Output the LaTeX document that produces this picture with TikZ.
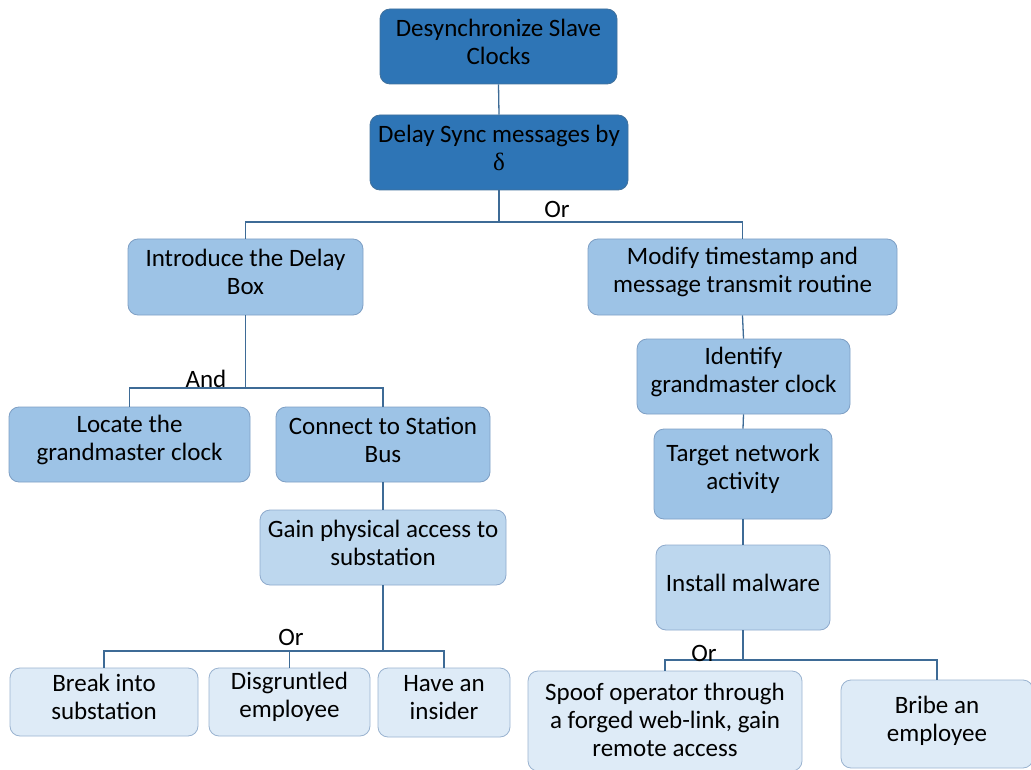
\documentclass[tikz,border=0pt]{standalone}
\usepackage{fontspec}
\setmainfont{Carlito}
\newfontfamily\greekserif{Liberation Serif}
\begin{document}
\begin{tikzpicture}[x=1pt,y=-1pt,
  box/.style={rectangle, rounded corners=10pt, inner sep=0pt, line width=0.8pt},
  txt/.style={inner sep=0pt, align=center, text=black,
    font=\fontsize{25}{28}\selectfont, yshift=5pt},
  lvA/.style={box, fill=c1fill, draw=c1line},
  lvB/.style={box, fill=c2fill, draw=c2line},
  lvC/.style={box, fill=c3fill, draw=c3line},
  lvD/.style={box, fill=c4fill, draw=c4line},
  link/.style={draw=linkc, line width=1.3pt},
  gate/.style={font=\fontsize{25}{28}\selectfont, inner sep=0pt}]
\definecolor{c1fill}{HTML}{2E75B6}
\definecolor{c1line}{HTML}{41719C}
\definecolor{c2fill}{HTML}{9DC3E6}
\definecolor{c2line}{HTML}{7E9FC4}
\definecolor{c3fill}{HTML}{BDD7EE}
\definecolor{c3line}{HTML}{8EAACC}
\definecolor{c4fill}{HTML}{DEEBF7}
\definecolor{c4line}{HTML}{9AB3D0}
\definecolor{linkc}{HTML}{3E6B96}
\useasboundingbox (0,0) rectangle (1031,770);

% top of the tree
\node[lvA, minimum width=237pt, minimum height=75pt,
  label={[txt]center:{Desynchronize Slave\\Clocks}}] (top) at (498.5,46.5) {};
\node[lvA, minimum width=258pt, minimum height=75pt,
  label={[txt]center:{Delay Sync messages by\\{\greekserif δ}}}] (sync) at (499,152.5) {};

% second level
\node[lvB, minimum width=235pt, minimum height=76pt,
  label={[txt]center:{Introduce the Delay\\Box}}] (intro) at (245.5,277) {};
\node[lvB, minimum width=309pt, minimum height=76pt,
  label={[txt]center:{Modify timestamp and\\message transmit routine}}] (modify) at (742.5,277) {};

% left branch
\node[lvB, minimum width=241pt, minimum height=75pt,
  label={[txt]center:{Locate the\\grandmaster clock}}] (locate) at (129.5,444.5) {};
\node[lvB, minimum width=214pt, minimum height=75pt,
  label={[txt]center:{Connect to Station\\Bus}}] (connect) at (383,444.5) {};
\node[lvC, minimum width=246pt, minimum height=75pt,
  label={[txt]center:{Gain physical access to\\substation}}] (gain) at (383,547.5) {};
\node[lvD, minimum width=188pt, minimum height=68pt,
  label={[txt]center:{Break into\\substation}}] (breakin) at (104,702) {};
\node[lvD, minimum width=161pt, minimum height=68pt,
  label={[txt]center:{Disgruntled\\employee}}] (disgr) at (289.5,702) {};
\node[lvD, minimum width=132pt, minimum height=69pt,
  label={[txt]center:{Have an\\insider}}] (insider) at (444,702.5) {};

% right branch
\node[lvB, minimum width=213pt, minimum height=75pt,
  label={[txt]center:{Identify\\grandmaster clock}}] (identify) at (743.5,376.5) {};
\node[lvB, minimum width=178pt, minimum height=90pt,
  label={[txt]center:{Target network\\activity}}] (target) at (743,474) {};
\node[lvC, minimum width=174pt, minimum height=85pt,
  label={[txt]center:{Install malware}}] (malware) at (743,587.5) {};
\node[lvD, minimum width=274pt, minimum height=100pt,
  label={[txt, yshift=-4pt]center:{Spoof operator through\\a forged web-link, gain\\remote access}}] (spoof) at (665,721) {};
\node[lvD, minimum width=192pt, minimum height=88pt,
  label={[txt, yshift=-2pt]center:{Bribe an\\employee}}] (bribe) at (937,724) {};

% junction points
\coordinate (j1) at (499,222);
\coordinate (j2) at (245.5,388);
\coordinate (j3) at (383,651);
\coordinate (j4) at (743,660);

% connectors
\draw[link] (top.south) -- (sync.north);
\draw[link] (sync.south) -- (j1);
\draw[link] (intro.north) |- (j1) -| (modify.north);
\draw[link] (intro.south) -- (j2);
\draw[link] (locate.north) |- (j2) -| (connect.north);
\draw[link] (connect.south) -- (gain.north);
\draw[link] (gain.south) -- (j3);
\draw[link] (breakin.north) |- (j3) -| (insider.north);
\draw[link] (disgr.north) -- (disgr.north |- j3);
\draw[link] (modify.south) -- (identify.north);
\draw[link] (identify.south) -- (target.north);
\draw[link] (target.south) -- (malware.north);
\draw[link] (malware.south) -- (j4);
\draw[link] (spoof.north) |- (j4) -| (bribe.north);

% gate labels
\node[gate, anchor=base] (orA) at (557,218) {Or};
\node[gate, anchor=base] (andA) at (206,387) {And};
\node[gate, anchor=base] (orB) at (291,645) {Or};
\node[gate, anchor=base] (orC) at (704,661) {Or};
\end{tikzpicture}
\end{document}
